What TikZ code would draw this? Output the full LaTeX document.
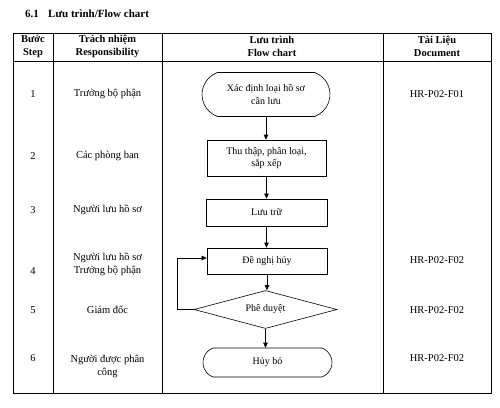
\documentclass[tikz,border=0pt]{standalone}
\usepackage{fontspec}
\setmainfont{Liberation Serif}
\usetikzlibrary{shapes.geometric,shapes.misc,arrows.meta}
\begin{document}
\begin{tikzpicture}[x=1pt,y=-1pt,
  txt/.style={font=\fontsize{10.5}{13}\selectfont, align=center, inner sep=0pt},
  hdr/.style={font=\fontsize{10.5}{13}\selectfont\bfseries, align=center, inner sep=0pt},
  grid/.style={line width=0.9pt},
  term/.style={draw, line width=0.6pt, rounded rectangle, rounded rectangle arc length=140, font=\fontsize{10}{12.5}\selectfont, align=center, inner sep=0pt},
  procbox/.style={draw, line width=0.6pt, rectangle, font=\fontsize{10}{12.5}\selectfont, align=center, inner sep=0pt},
  decis/.style={draw, line width=0.6pt, diamond, aspect=3.8, font=\fontsize{10}{12.5}\selectfont, align=center, inner sep=0pt},
  flow/.style={line width=0.6pt, -{Triangle[length=5pt,width=4.5pt]}}
]
\useasboundingbox (0,0) rectangle (500,407);
% title
\node[anchor=west, font=\fontsize{11}{13}\selectfont\bfseries, inner sep=0pt] (tnum) at (25,14) {6.1};
\node[anchor=west, font=\fontsize{11}{13}\selectfont\bfseries, inner sep=0pt] (ttl) at (48,14) {Lưu trình/Flow chart};
% table
\draw[grid] (13,33) rectangle (491,393);
\draw[grid] (13,61) -- (491,61);
\draw[grid] (53,33) -- (53,393);
\draw[grid] (162,33) -- (162,393);
\draw[grid] (383,33) -- (383,393);
% headers
\node[hdr] (h1) at (33,46.5) {Bước\\Step};
\node[hdr] (h2) at (107.5,46.5) {Trách nhiệm\\Responsibility};
\node[hdr] (h3) at (272,46.5) {Lưu trình\\Flow chart};
\node[hdr] (h4) at (437,46.5) {Tài Liệu\\Document};
% step numbers
\node[txt] (s1) at (33,94) {1};
\node[txt] (s2) at (33,156) {2};
\node[txt] (s3) at (33,210) {3};
\node[txt] (s4) at (33,271) {4};
\node[txt] (s5) at (33,310) {5};
\node[txt] (s6) at (33,358) {6};
% responsibility
\node[txt] (r1) at (107.5,94) {Trưởng bộ phận};
\node[txt] (r2) at (107.5,156) {Các phòng ban};
\node[txt] (r3) at (107.5,210) {Người lưu hồ sơ};
\node[txt] (r4) at (107.5,264.5) {Người lưu hồ sơ\\Trưởng bộ phận};
\node[txt] (r5) at (107.5,310) {Giám đốc};
\node[txt] (r6) at (107.5,366) {Người được phân\\công};
% documents
\node[txt] (d1) at (437,94) {HR-P02-F01};
\node[txt] (d4) at (437,260) {HR-P02-F02};
\node[txt] (dd5) at (437,310) {HR-P02-F02};
\node[txt] (d6) at (437,358) {HR-P02-F02};
% flowchart
\node[term, minimum width=128pt, minimum height=44pt] (t1) at (266,94.5) {Xác định loại hồ sơ\\cần lưu};
\node[procbox, minimum width=119pt, minimum height=36pt] (b2) at (266.5,158) {Thu thập, phân loại,\\sắp xếp};
\node[procbox, minimum width=121pt, minimum height=27pt] (b3) at (266.5,212.5) {Lưu trữ};
\node[procbox, minimum width=120pt, minimum height=26pt] (b4) at (267,261) {Đề nghị hủy};
\node[decis, minimum width=143pt, minimum height=38pt] (d5) at (265.5,309.5) {Phê duyệt};
\node[term, minimum width=129pt, minimum height=29pt] (t6) at (267.5,362.5) {Hủy bỏ};
\coordinate (lp) at (177,258);
\draw[flow] (t1.south) -- (t1.south |- b2.north);
\draw[flow] (b2.south) -- (b2.south |- b3.north);
\draw[flow] (b3.south) -- (b3.south |- b4.north);
\draw[flow] (b4.south) -- (b4.south |- d5.north);
\draw[flow] (d5.south) -- (d5.south |- t6.north);
\draw[flow] (d5.west) -| (lp) -- (lp -| b4.west);
\end{tikzpicture}
\end{document}
